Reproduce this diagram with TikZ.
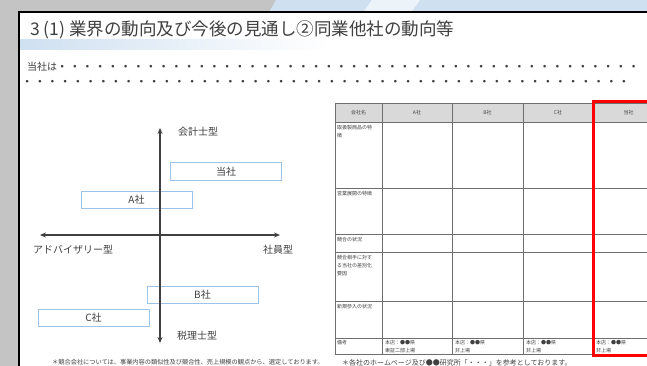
\documentclass[tikz,border=0pt]{standalone}
\usepackage{fontspec}
\setmainfont{Noto Sans CJK JP}
\usetikzlibrary{arrows.meta}
\definecolor{bggray}{HTML}{C4C4C4}
\definecolor{bgblue}{HTML}{CFE0F1}
\definecolor{boxblue}{HTML}{9DC3E6}
\definecolor{axisgray}{HTML}{404040}
\definecolor{txt}{HTML}{404040}
\definecolor{hdr}{HTML}{D9D9D9}
\definecolor{gridc}{HTML}{6E6E6E}
\newcommand\fs[1]{\fontsize{#1}{#1}\selectfont}
\begin{document}
\begin{tikzpicture}[x=1pt,y=-1pt,
  every node/.style={inner sep=0pt, text=txt},
  axisline/.style={draw=axisgray, line width=2pt, {Stealth[length=6pt,width=5pt]}-{Stealth[length=6pt,width=5pt]}},
  axlabel/.style={font=\fs{10}},
  cobox/.style={draw=boxblue, line width=1pt, minimum width=111pt, minimum height=17pt, font=\fs{10}},
  gridline/.style={draw=gridc, line width=0.9pt},
  hdrtext/.style={font=\fs{5}},
  notetext/.style={anchor=north west, align=left, font=\fontsize{5}{8}\selectfont},
]
\useasboundingbox (0,0) rectangle (647,366);
\clip (0,0) rectangle (647,366);
% background
\fill[bggray] (0,0) rectangle (647,366);
\fill[bgblue] (276,0) -- (647,0) -- (647,14) -- (268,14) -- cycle;
\fill[white!60!bgblue] (372,0) -- (420,0) -- (410,14) -- (362,14) -- cycle;
\fill[white] (19,12) rectangle (680,380);
\shade[left color=bgblue, right color=white] (19,40) rectangle (330,52);
\fill[white] (19,50) rectangle (680,53);
\draw[black, line width=2.5pt] (19,380) -- (19,12) -- (680,12);
% title
\node[anchor=west, font=\fs{17.5}] (title) at (30,30) {3 (1) 業界の動向及び今後の見通し②同業他社の動向等};
\node[anchor=west, font=\fs{10}] (tosha) at (27,67) {当社は};
\node[anchor=west, font=\fs{12.7}] (dots1) at (55.6,68) {・・・・・・・・・・・・・・・・・・・・・・・・・・・・・・・・・・・・・・・・・・・・・・};
\node[anchor=west, font=\fs{12.7}] (dots2) at (20.6,83) {・・・・・・・・・・・・・・・・・・・・・・・・・・・・・・・・・・・・・・・・・・・・・・・・};
% positioning map
\node[cobox] (boxT) at (226,171.5) {当社};
\node[cobox] (boxA) at (136.5,199.5) {A社};
\node[cobox] (boxB) at (202.5,294.5) {B社};
\node[cobox] (boxC) at (93.5,318) {C社};
\coordinate (vt) at (160,128);
\coordinate (vb) at (160,343);
\coordinate (hl) at (40,235);
\coordinate (hr) at (280,235);
\draw[axisline] (vb) -- (vt);
\draw[axisline] (hl) -- (hr);
\node[axlabel] (lkaikei) at (198,132) {会計士型};
\node[axlabel] (ladv) at (73,250) {アドバイザリー型};
\node[axlabel] (lshain) at (278,250) {社員型};
\node[axlabel] (lzeiri) at (197,336) {税理士型};
\node[anchor=west, font=\fs{6.2}] (note1) at (52,362) {＊競合会社については、事業内容の類似性及び競合性、売上規模の観点から、選定しております。};
% table
\fill[hdr] (335,103) rectangle (680,122);
\foreach \y in {103,122,188,234,252,301,338,354} {
  \draw[gridline] (335,\y) -- (680,\y);
}
\foreach \x in {335,382,452,523,593,664} {
  \draw[gridline] (\x,103) -- (\x,354);
}
\node[hdrtext] (h0) at (358.5,112.5) {会社名};
\node[hdrtext] (h1) at (417,112.5) {A社};
\node[hdrtext] (h2) at (487.5,112.5) {B社};
\node[hdrtext] (h3) at (558,112.5) {C社};
\node[hdrtext] (h4) at (628.5,112.5) {当社};
\node[notetext] (r1) at (337,125) {取扱製商品の特\\徴};
\node[notetext] (r2) at (337,191) {営業展開の特徴};
\node[notetext] (r3) at (337,237) {競合の状況};
\node[notetext] (r4) at (337,255) {競合相手に対す\\る当社の差別化\\要因};
\node[notetext] (r5) at (337,304) {新規参入の状況};
\node[notetext] (r6) at (337,340.5) {備考};
\node[notetext] (bA) at (385,340.5) {本店：●●県\\東証二部上場};
\node[notetext] (bB) at (455,340.5) {本店：●●県\\非上場};
\node[notetext] (bC) at (526,340.5) {本店：●●県\\非上場};
\node[notetext] (bT) at (596,340.5) {本店：●●県\\非上場};
\draw[red, line width=3pt] (593,102) rectangle (690,355);
\node[anchor=west, font=\fs{7}] (note2) at (342,363) {＊各社のホームページ及び●●研究所「・・・」を参考としております。};
\end{tikzpicture}
\end{document}
